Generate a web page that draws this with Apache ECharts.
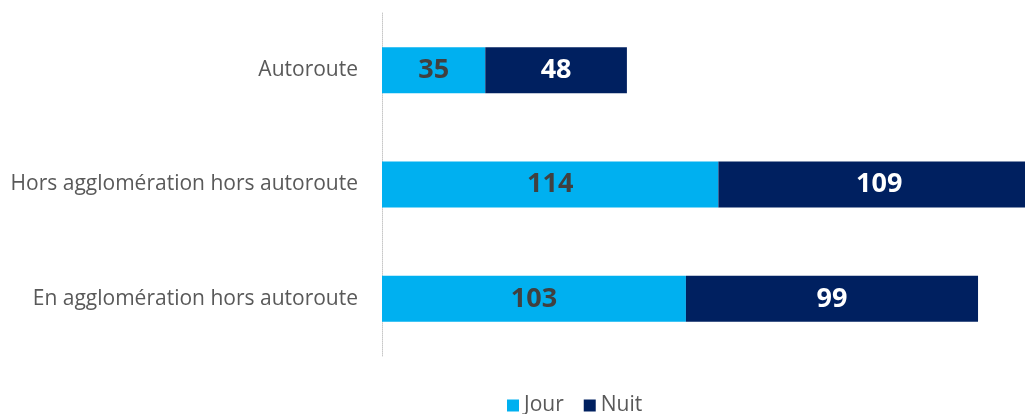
<!DOCTYPE html>
<html><head><meta charset="utf-8">
<script src="https://cdn.jsdelivr.net/npm/echarts@6/dist/echarts.min.js"></script>
<style>html,body{margin:0;padding:0;background:#fff}#c{width:1025px;height:414px}</style>
</head><body><div id="c"></div>
<script>
const categories = ["Autoroute", "Hors agglomération hors autoroute", "En agglomération hors autoroute"];
const jour = [35, 114, 103];
const nuit = [48, 109, 99];
const seriesNames = ["Jour", "Nuit"];

const chart = echarts.init(document.getElementById('c'), null, {renderer: 'canvas'});
chart.setOption({
  animation: false,
  grid: {left: 382, width: 658, top: 13, height: 343, containLabel: false, outerBoundsMode: 'none'},
  legend: {
    data: seriesNames, top: 390, left: 502, itemWidth: 12, itemHeight: 12, itemGap: 20,
    icon: 'rect',
    textStyle: {color: '#595959', fontSize: 21, fontFamily: 'Open Sans'}
  },
  xAxis: {type: 'value', min: 0, max: 223, show: false},
  yAxis: {
    type: 'category', data: categories, inverse: true,
    axisLine: {show: true, lineStyle: {color: '#c8c8c8', type: 'dotted', width: 1}},
    axisTick: {show: false},
    axisLabel: {color: '#595959', fontSize: 21, margin: 24, fontFamily: 'Open Sans'}
  },
  series: [
    {name: seriesNames[0], type: 'bar', stack: 's', data: jour, barWidth: 46,
     itemStyle: {color: '#00B0F0'},
     label: {show: true, position: 'inside', color: '#404040', fontWeight: 'bold', fontSize: 27, fontFamily: 'Open Sans'}},
    {name: seriesNames[1], type: 'bar', stack: 's', data: nuit, barWidth: 46,
     itemStyle: {color: '#002060'},
     label: {show: true, position: 'inside', color: '#ffffff', fontWeight: 'bold', fontSize: 27, fontFamily: 'Open Sans'}}
  ]
});
</script></body></html>
